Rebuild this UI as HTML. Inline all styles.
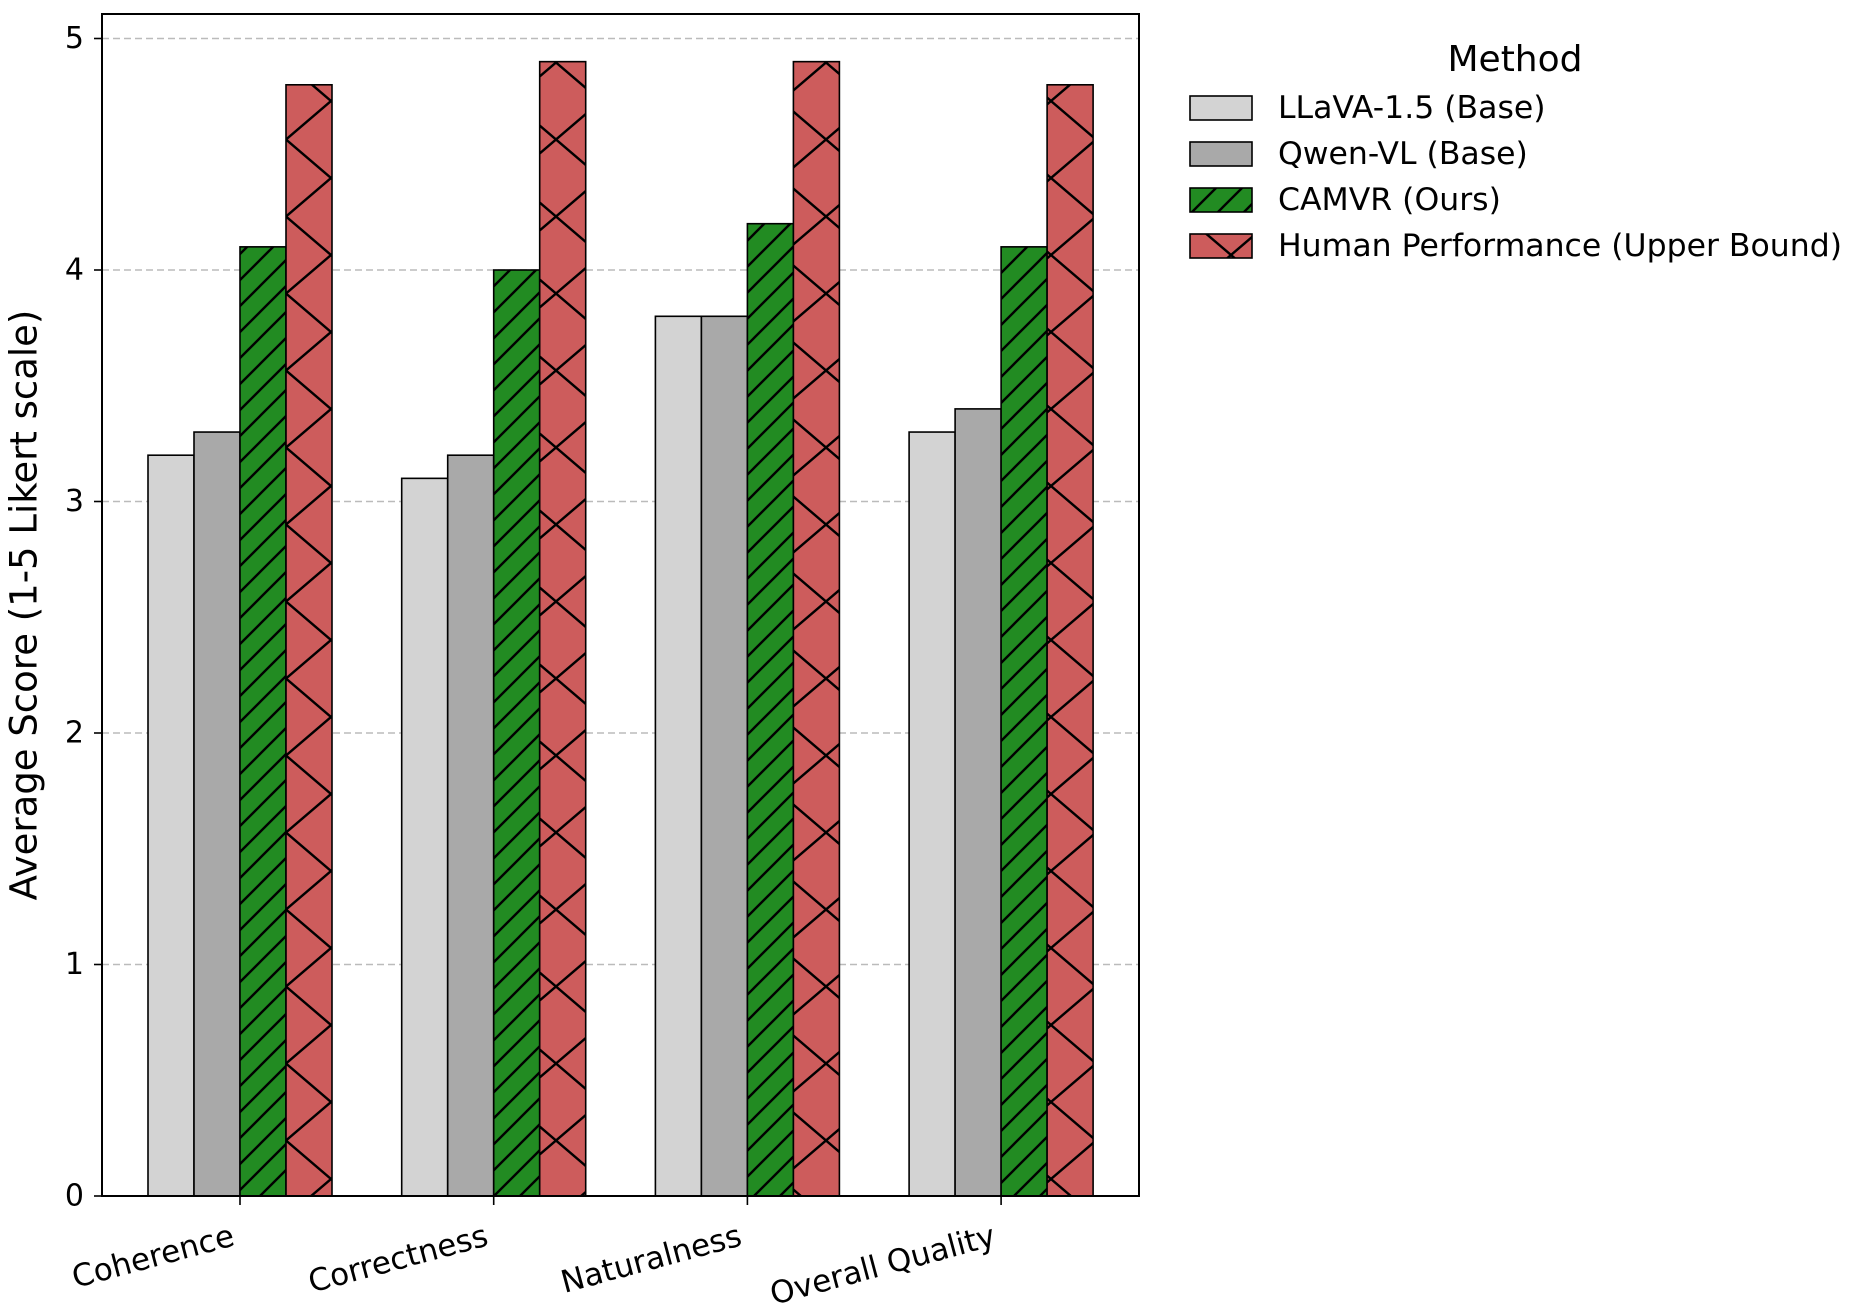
<!DOCTYPE html>
<html><head><meta charset="utf-8"><style>
html,body{margin:0;padding:0;background:#fff;}
svg{display:block;font-family:"DejaVu Sans","Liberation Sans",sans-serif;}
</style></head><body>
<svg id="chart" width="1856" height="1309" viewBox="0 0 1856 1309">
<defs>
<pattern id="hatchGreen" patternUnits="userSpaceOnUse" width="26" height="26">
<rect width="26" height="26" fill="#228b22"/>
<path d="M-2,28 L28,-2 M-15,15 L15,-15 M11,41 L41,11" stroke="#000" stroke-width="2.4"/>
</pattern>
<pattern id="hatchRed" patternUnits="userSpaceOnUse" width="90" height="77" x="61" y="24">
<rect width="90" height="77" fill="#cd5c5c"/>
<path d="M0,0 L90,77 M90,0 L0,77" stroke="#000" stroke-width="2.4"/>
</pattern>
</defs>
<g id="grid"></g>
<g id="bars"></g>
<rect x="102" y="14" width="1037" height="1182" fill="none" stroke="#000" stroke-width="2"/>
<g id="yticks"></g>
<g id="xticks"></g>
<text x="26" y="605" font-size="37" text-anchor="middle" transform="rotate(-90 26 605)" dominant-baseline="middle">Average Score (1-5 Likert scale)</text>
<g id="legend">
<text x="1515" y="71" font-size="36" text-anchor="middle">Method</text>
</g>
</svg>
<script>
const categories = ["Coherence", "Correctness", "Naturalness", "Overall Quality"];
const seriesNames = ["LLaVA-1.5 (Base)", "Qwen-VL (Base)", "CAMVR (Ours)", "Human Performance (Upper Bound)"];
const llava = [3.2, 3.1, 3.8, 3.3];
const qwen = [3.3, 3.2, 3.8, 3.4];
const camvr = [4.1, 4.0, 4.2, 4.1];
const human = [4.8, 4.9, 4.9, 4.8];
const yTicks = [0, 1, 2, 3, 4, 5];

const NS = "http://www.w3.org/2000/svg";
const fills = ["#d3d3d3", "#a9a9a9", "url(#hatchGreen)", "url(#hatchRed)"];
const series = [llava, qwen, camvr, human];
const y0 = 1196, unit = 231.5, c0 = 240, step = 253.7, bw = 46;
function yScale(v){ return y0 - v*unit; }
function xCenter(i){ return c0 + i*step; }
function mk(tag, attrs, parent){ const e=document.createElementNS(NS,tag); for(const k in attrs) e.setAttribute(k,attrs[k]); parent.appendChild(e); return e; }

const grid=document.getElementById('grid'), yt=document.getElementById('yticks'), xt=document.getElementById('xticks'), bars=document.getElementById('bars'), lg=document.getElementById('legend');
yTicks.forEach(t=>{
  const y=yScale(t);
  if(t>0){
    const g=mk('line',{x1:102,x2:1139,y1:y,y2:y,stroke:'#bbb','stroke-width':1.6,'stroke-dasharray':'7,4'},grid);
    
    
  }
  const tk=mk('line',{x1:94,x2:102,y1:y,y2:y,stroke:'#000','stroke-width':1.6},yt);
  
  
  const tx=mk('text',{x:84,y:y,'font-size':30,'text-anchor':'end','dominant-baseline':'central'},yt);
  tx.textContent=t;
  
  
});
categories.forEach((cat,i)=>{
  const c=xCenter(i);
  series.forEach((s,j)=>{
    const x=c+(j-2)*bw, y=yScale(s[i]);
    const r=mk('rect',{x:x,y:y,width:bw,height:y0-y,fill:fills[j],stroke:'#000','stroke-width':1.6},bars);
    
    
  });
  const tk=mk('line',{x1:c,x2:c,y1:1196,y2:1205,stroke:'#000','stroke-width':1.6},xt);
  
  
  const tx=mk('text',{x:c-4,y:1245,'font-size':31,'text-anchor':'end',transform:`rotate(-15 ${c-4} 1245)`},xt);
  tx.textContent=cat;
  
  
});
seriesNames.forEach((n,j)=>{
  const y=108+j*46;
  const r=mk('rect',{x:1190,y:y-12,width:62,height:24,fill:fills[j],stroke:'#000','stroke-width':1.6},lg);
  
  
  const t=mk('text',{x:1278,y:y,'font-size':31.5,'dominant-baseline':'central'},lg);
  t.textContent=n;
  
  
});
</script>
</body></html>
